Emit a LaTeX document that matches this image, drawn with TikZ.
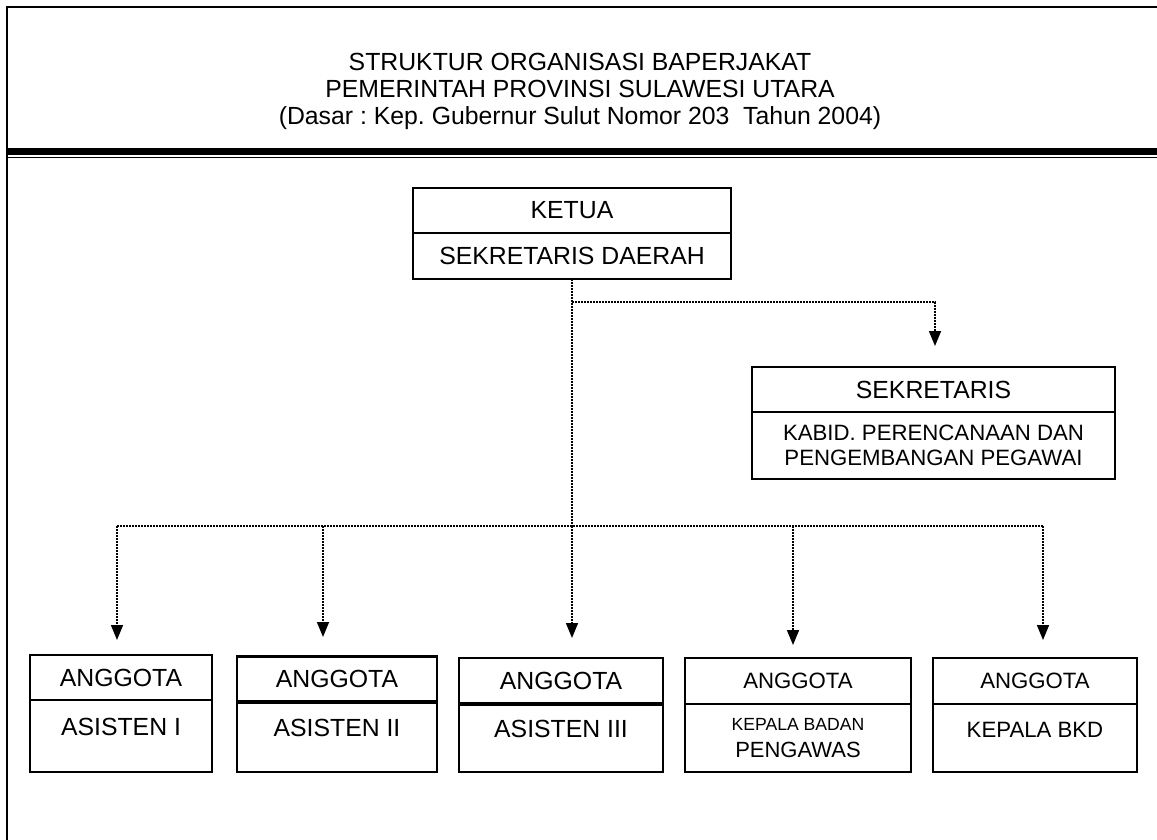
\documentclass[tikz,border=0pt]{standalone}
\usepackage{fontspec}
\setmainfont{Liberation Sans}
\usetikzlibrary{arrows.meta,positioning}
\frenchspacing

\begin{document}
\begin{tikzpicture}[x=0.5pt,y=-0.5pt,
    box/.style={draw,line width=1pt,inner sep=0pt,outer sep=0pt,align=center,font=\fontsize{12.4}{13.5}\selectfont},
    lower/.style={box,anchor=north,text height=9pt,text depth=10pt},
    dots/.style={line width=0.8pt,dash pattern=on 0.8pt off 0.7pt},
    tip/.style={dots,-{Triangle[width=6pt,length=7.5pt]}}]
  \useasboundingbox (0,0) rectangle (1157,840);

  % frame and heading
  \draw[line width=1.2pt] (1157,7) -- (7,7) -- (7,840);
  \draw[line width=3.5pt] (7,151.5) -- (1157,151.5);
  \draw[line width=0.8pt] (7,157.5) -- (1157,157.5);
  \node[align=center,font=\fontsize{12.4}{13.5}\selectfont] (judul) at (580,91)
    {STRUKTUR ORGANISASI BAPERJAKAT\\PEMERINTAH PROVINSI SULAWESI UTARA\\(Dasar : Kep. Gubernur Sulut Nomor 203\ \ Tahun 2004)};

  % ketua
  \node[box,minimum width=159pt,minimum height=22.5pt] (ketua) at (572,210.5) {KETUA};
  \node[box,anchor=north,minimum width=159pt,minimum height=23pt] (sekda) at (ketua.south) {SEKRETARIS DAERAH};

  % sekretaris
  \node[box,minimum width=181.5pt,minimum height=22.5pt] (sekr) at (933.5,389.5) {SEKRETARIS};
  \node[box,anchor=north,minimum width=181.5pt,minimum height=33.5pt,font=\fontsize{11.1}{12.5}\selectfont] (kabid) at (sekr.south)
    {KABID. PERENCANAAN DAN\\PENGEMBANGAN PEGAWAI};

  % anggota
  \node[box,minimum width=91pt,minimum height=22.5pt] (ang1) at (121,677.5) {ANGGOTA};
  \node[lower,minimum width=91pt,minimum height=36pt] (asis1) at (ang1.south) {ASISTEN I};
  \node[box,minimum width=100pt,minimum height=23pt] (ang2) at (337,679) {ANGGOTA};
  \node[lower,minimum width=100pt,minimum height=35pt] (asis2) at (ang2.south) {ASISTEN II};
  \node[box,minimum width=102pt,minimum height=23pt] (ang3) at (561,681) {ANGGOTA};
  \node[lower,minimum width=102pt,minimum height=34pt] (asis3) at (ang3.south) {ASISTEN III};
  \node[box,minimum width=113pt,minimum height=23pt,font=\fontsize{11.1}{12.5}\selectfont] (ang4) at (798,681) {ANGGOTA};
  \node[box,anchor=north,minimum width=113pt,minimum height=34pt] (badan) at (ang4.south)
    {{\fontsize{8.8}{12.5}\selectfont KEPALA BADAN}\\{\fontsize{11}{12.5}\selectfont PENGAWAS}};
  \node[box,minimum width=102pt,minimum height=23pt,font=\fontsize{11.1}{12.5}\selectfont] (ang5) at (1035,681) {ANGGOTA};
  \node[lower,minimum width=102pt,minimum height=34pt,font=\fontsize{11.1}{12.5}\selectfont] (bkd) at (ang5.south) {KEPALA BKD};
  \draw[line width=1.5pt] (ang2.north west) -- (ang2.north east);
  \draw[line width=2pt] (ang2.south west) -- (ang2.south east);
  \draw[line width=2pt] (ang3.south west) -- (ang3.south east);

  % lines
  \coordinate (fork) at (572,302);
  \coordinate (bus) at (572,526);
  \coordinate (ts) at (935,346);
  \coordinate (t1) at (117,640);
  \coordinate (t2) at (323,637);
  \coordinate (t3) at (572,638);
  \coordinate (t4) at (793,645);
  \coordinate (t5) at (1043,640);
  \draw[dots] (sekda.south) -- (bus);
  \draw[tip] (fork) -| (ts);
  \draw[dots] (t1 |- bus) -- (t5 |- bus);
  \foreach \t in {t1,t2,t3,t4,t5}
    \draw[tip] (\t |- bus) -- (\t);
\end{tikzpicture}
\end{document}
